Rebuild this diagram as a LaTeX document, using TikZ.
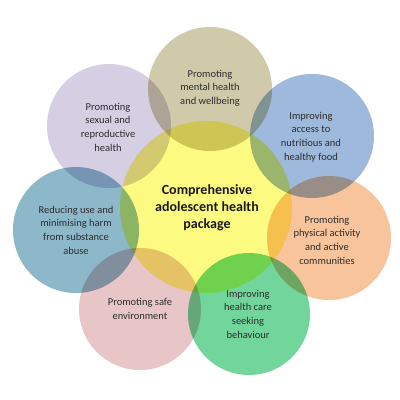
\documentclass[tikz,border=0pt]{standalone}
\usepackage{fontspec}
\setmainfont{Carlito}
\definecolor{cyel}{RGB}{252,250,128}
\definecolor{colive}{RGB}{208,202,170}
\definecolor{cblue}{RGB}{158,185,219}
\definecolor{corange}{RGB}{248,196,156}
\definecolor{cgreen}{RGB}{114,214,156}
\definecolor{cpink}{RGB}{232,198,199}
\definecolor{cteal}{RGB}{141,184,202}
\definecolor{clav}{RGB}{214,206,227}
\definecolor{ctext}{RGB}{45,45,45}
\begin{document}
\begin{tikzpicture}[x=1pt,y=-1pt,
  bubble/.style={circle,inner sep=0pt,minimum size=#1},
  outerlabel/.style={align=center,text=ctext,font=\fontsize{10.5}{13.7}\selectfont},
  centerlabel/.style={align=center,text=black!90,font=\fontsize{14}{17}\selectfont\bfseries}]
\useasboundingbox (0,0) rectangle (400,400);
\fill[white] (0,0) rectangle (400,400);
\begin{scope}[blend mode=multiply]
\node[bubble=172pt,fill=cyel] (core) at (206,207) {};
\node[bubble=124pt,fill=colive] (cmental) at (210,89) {};
\node[bubble=124pt,fill=cblue] (cfood) at (312,136) {};
\node[bubble=124pt,fill=corange] (cphys) at (329,238) {};
\node[bubble=122pt,fill=cgreen] (ccare) at (249,314) {};
\node[bubble=122pt,fill=cpink] (csafe) at (140,309) {};
\node[bubble=126pt,fill=cteal] (csubst) at (76,230) {};
\node[bubble=124pt,fill=clav] (csexual) at (109,126) {};
\end{scope}
\node[centerlabel] (tcore) at (207,208) {Comprehensive\\adolescent health\\package};
\node[outerlabel] (tmental) at (210,88) {Promoting\\mental health\\and wellbeing};
\node[outerlabel] (tsexual) at (108,127) {Promoting\\sexual and\\reproductive\\health};
\node[outerlabel] (tfood) at (311,137) {Improving\\access to\\nutritious and\\healthy food};
\node[outerlabel] (tphys) at (327,240) {Promoting\\physical activity\\and active\\communities};
\node[outerlabel] (tcare) at (248,314) {Improving\\health care\\seeking\\behaviour};
\node[outerlabel] (tsafe) at (140,309) {Promoting safe\\environment};
\node[outerlabel] (tsubst) at (76,230) {Reducing use and\\minimising harm\\from substance\\abuse};
\end{tikzpicture}
\end{document}
